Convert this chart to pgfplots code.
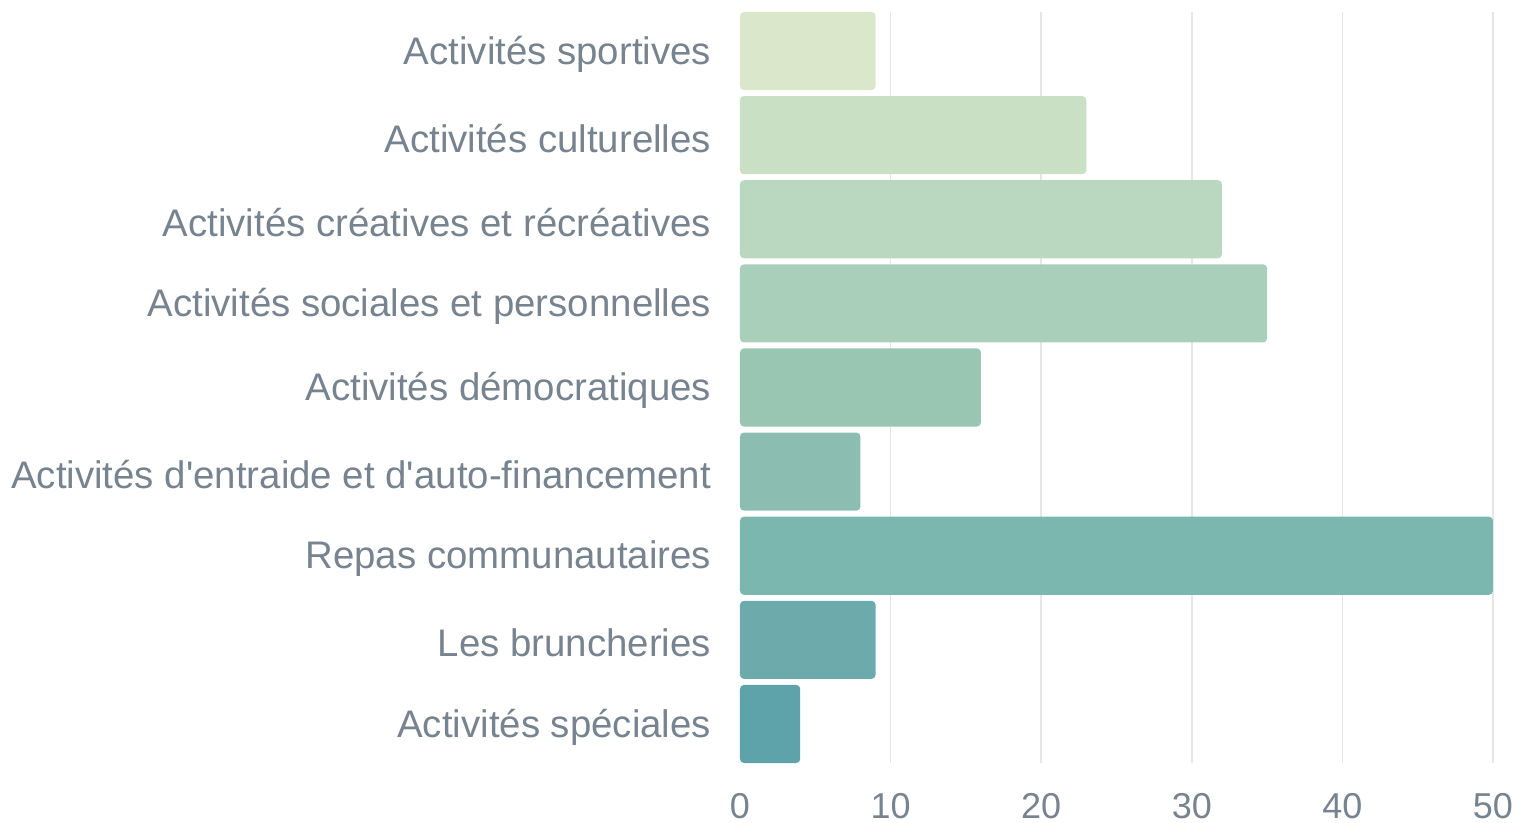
\documentclass[border=0pt]{standalone}
\usepackage{pgfplots}
\pgfplotsset{compat=1.18}
\usepackage{fontspec}
\setmainfont{Liberation Sans}
\definecolor{lab}{HTML}{77838F}
\definecolor{gridgray}{HTML}{E6E6E6}
\definecolor{c1}{HTML}{DBE7CB}
\definecolor{c2}{HTML}{C9E0C4}
\definecolor{c3}{HTML}{B9D8BF}
\definecolor{c4}{HTML}{A9CFBA}
\definecolor{c5}{HTML}{98C6B3}
\definecolor{c6}{HTML}{8BBEB0}
\definecolor{c7}{HTML}{7CB7AF}
\definecolor{c8}{HTML}{6DAAAB}
\definecolor{c9}{HTML}{5FA3AA}
\begin{document}
\begin{tikzpicture}
\useasboundingbox (-370bp,-30bp) rectangle (395bp,381.5bp);
\begin{axis}[
  at={(0,0)}, anchor=south west,
  scale only axis, width=376.5bp, height=375.5bp,
  xmin=0, xmax=50, ymin=-0.464, ymax=8.464, y dir=reverse,
  axis line style={draw=none}, major tick style={draw=none}, minor tick style={draw=none},
  xtick={0,10,20,30,40,50},
  minor xtick={10,20,30,40,50},
  xminorgrids,
  minor grid style={color=gridgray, line width=0.8bp},
  ytick={0,1,2,3,4,5,6,7,8},
  yticklabels={Activités sportives, Activités culturelles, Activités créatives et récréatives, Activités sociales et personnelles, Activités démocratiques, Activités d\textquotesingle entraide et d\textquotesingle auto-financement, Repas communautaires, Les bruncheries, Activités spéciales},
  xbar, bar width=0.929, bar shift=0pt,
  tick label style={text=lab},
  /pgf/number format/assume math mode=true,
  y tick label style={anchor=east, inner sep=0pt, xshift=-10bp, yshift=-1.5bp, font=\fontsize{19.2bp}{22bp}\selectfont},
  x tick label style={anchor=north, inner sep=0pt, text depth=0pt, yshift=-15bp, font=\fontsize{18bp}{20bp}\selectfont},
  clip=false,
]
\addplot[fill=c1, draw=none, rounded corners=2bp] coordinates {(9,0)};
\addplot[fill=c2, draw=none, rounded corners=2bp] coordinates {(23,1)};
\addplot[fill=c3, draw=none, rounded corners=2bp] coordinates {(32,2)};
\addplot[fill=c4, draw=none, rounded corners=2bp] coordinates {(35,3)};
\addplot[fill=c5, draw=none, rounded corners=2bp] coordinates {(16,4)};
\addplot[fill=c6, draw=none, rounded corners=2bp] coordinates {(8,5)};
\addplot[fill=c7, draw=none, rounded corners=2bp] coordinates {(50,6)};
\addplot[fill=c8, draw=none, rounded corners=2bp] coordinates {(9,7)};
\addplot[fill=c9, draw=none, rounded corners=2bp] coordinates {(4,8)};
\end{axis}
\end{tikzpicture}
\end{document}
